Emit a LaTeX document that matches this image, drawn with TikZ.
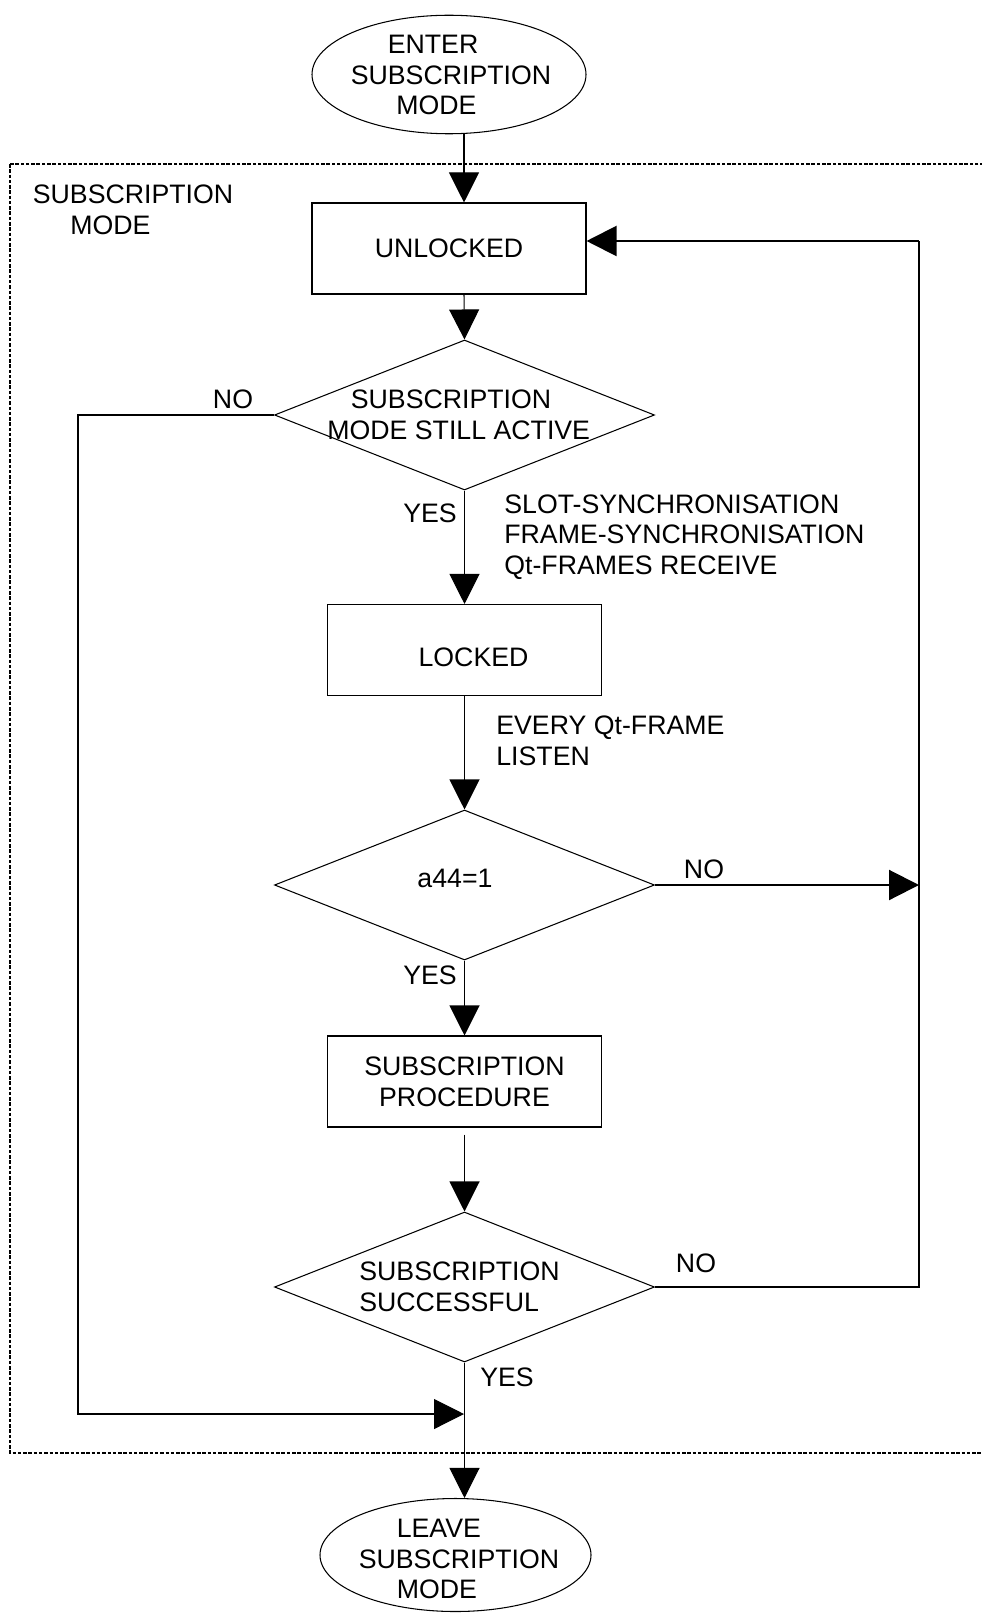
\documentclass[tikz,border=0pt]{standalone}
\usepackage{fontspec}
\setmainfont{Liberation Sans}
\usetikzlibrary{shapes.geometric,arrows.meta}
\newcommand{\flowfont}{\fontsize{15.2}{17.5}\selectfont}
\tikzset{
  flowbox/.style={draw, line width=0.6pt, minimum width=5.48cm,
    minimum height=1.82cm, align=center, font=\flowfont},
  flowdec/.style={draw, diamond, line width=0.6pt, inner sep=0pt,
    minimum width=7.6cm, minimum height=3cm},
  flowterm/.style={draw, ellipse, line width=0.6pt, inner sep=0pt},
  flowtxt/.style={inner sep=0pt, align=center, font=\flowfont},
  flowarr/.style={-{Triangle[length=0.6cm,width=0.6cm]}, line width=0.6pt},
}
\begin{document}
\begin{tikzpicture}
  \useasboundingbox (0,0) rectangle (19.62,-32.28);
  % Frame
  \draw[line width=0.6pt, dash pattern=on 2pt off 1pt] (0.20,-3.28) rectangle (19.9,-29.06);
  \node[flowtxt, align=left, anchor=west] (modelbl) at (0.65,-4.20) {SUBSCRIPTION\\\hspace*{0.75cm}MODE};
  % Terminals
  \node[flowterm, minimum width=5.48cm, minimum height=2.37cm] (enter) at (8.98,-1.49) {};
  \node[flowtxt, align=left] (entertxt) at (9.02,-1.50) {\hspace*{0.74cm}ENTER\\SUBSCRIPTION\\\hspace*{0.91cm}MODE};
  \node[flowterm, minimum width=5.42cm, minimum height=2.26cm] (leave) at (9.11,-31.10) {};
  \node[flowtxt, align=left] (leavetxt) at (9.18,-31.18) {\hspace*{0.76cm}LEAVE\\SUBSCRIPTION\\\hspace*{0.76cm}MODE};
  % Boxes
  \node[flowbox] (unlocked) at (8.98,-4.97) {UNLOCKED};
  \node[flowbox] (locked)   at (9.29,-13.00) {};
  \node[flowtxt] (lockedtxt) at (9.47,-13.14) {LOCKED};
  \node[flowbox] (proc)     at (9.29,-21.63) {SUBSCRIPTION\\PROCEDURE};
  % Decisions
  \node[flowdec] (active)  at (9.29,-8.30) {};
  \node[flowtxt, align=left, anchor=west] (activetxt) at (6.54,-8.30) {\hspace*{0.47cm}SUBSCRIPTION\\MODE STILL ACTIVE};
  \node[flowdec] (a44)     at (9.29,-17.70) {};
  \node[flowtxt] (a44txt)  at (9.10,-17.56) {a44=1};
  \node[flowdec] (success) at (9.29,-25.74) {};
  \node[flowtxt, align=left, anchor=west] (successtxt) at (7.18,-25.74) {SUBSCRIPTION\\SUCCESSFUL};
  % Labels
  \node[flowtxt] (noactive)  at (4.66,-7.98) {NO};
  \node[flowtxt] (yesactive) at (8.60,-10.26) {YES};
  \node[flowtxt, align=left, anchor=west] (synctxt) at (10.08,-10.74)
    {SLOT-SYNCHRONISATION\\FRAME-SYNCHRONISATION\\Qt-FRAMES RECEIVE};
  \node[flowtxt, align=left, anchor=west] (listentxt) at (9.92,-14.82) {EVERY Qt-FRAME\\LISTEN};
  \node[flowtxt] (noa44)      at (14.08,-17.38) {NO};
  \node[flowtxt] (yesa44)     at (8.60,-19.50) {YES};
  \node[flowtxt] (nosuccess)  at (13.92,-25.26) {NO};
  \node[flowtxt] (yessuccess) at (10.14,-27.54) {YES};
  % Corners
  \coordinate (join)   at (9.28,-28.28);
  \coordinate (leftc)  at (1.56,-28.28);
  \coordinate (loopnw) at (18.38,-4.82);
  % Edges
  \draw[flowarr] (enter.south -| join) -- (unlocked.north -| join);
  \draw[flowarr] (unlocked.south -| join) -- (active.north);
  \draw[flowarr] (active.south) -- (locked.north);
  \draw[flowarr] (locked.south) -- (a44.north);
  \draw[flowarr] (a44.south) -- (proc.north);
  \draw[flowarr, shorten <=0.14cm] (proc.south) -- (success.north);
  \draw[flowarr] (success.south) -- (success.south |- leave.north);
  \draw[flowarr] (active.west) -| (leftc) -- (join);
  \draw[flowarr, line width=1.2pt] (a44.east) -- (a44.east -| loopnw);
  \draw[line width=0.6pt] (success.east) -| (loopnw);
  \draw[flowarr, line width=1.2pt] (loopnw) -- (loopnw -| unlocked.east);
\end{tikzpicture}
\end{document}
